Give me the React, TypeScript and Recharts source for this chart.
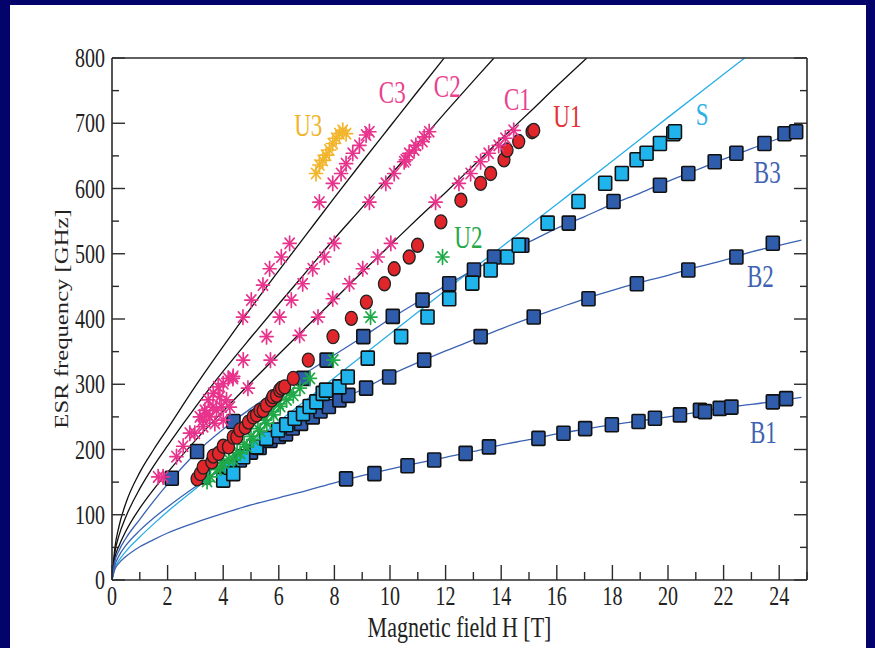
import React from 'react';
import { ComposedChart, Line, Scatter, XAxis, YAxis, Label } from 'recharts';

const NAVY = '#03036b';
const AXIS = '#2b2b2b';
const FONT = '"Liberation Serif","Times New Roman",Times,serif';

// ---- tick values ----
const X_TICKS = [0, 1, 2, 3, 4, 5, 6, 7, 8, 9, 10, 11, 12, 13, 14, 15, 16, 17, 18, 19, 20, 21, 22, 23, 24, 25];
const Y_TICKS = [0, 50, 100, 150, 200, 250, 300, 350, 400, 450, 500, 550, 600, 650, 700, 750, 800];

// ---- theory curves ----
const C3_CURVE: [number, number][] = [[0, 0], [0.1, 48], [0.25, 82], [0.5, 118], [1, 165], [1.5, 200], [2, 232], [3, 297], [4, 358], [5, 417], [6, 474], [7, 530], [8, 586], [9, 641], [10, 695], [11, 749], [11.95, 800]];
const C2_CURVE: [number, number][] = [[0, 0], [0.1, 41], [0.25, 68], [0.5, 97], [1, 140], [1.5, 175], [2, 206], [3, 265], [4, 320], [5, 372], [6, 423], [7, 473], [8, 523], [9, 571], [10, 620], [11, 668], [12, 717], [13, 765], [13.74, 800]];
const C1_CURVE: [number, number][] = [[0, 0], [0.1, 33], [0.25, 52], [0.5, 75], [1, 110], [1.5, 139], [2, 165], [3, 214], [4, 259], [5, 303], [6, 346], [7, 388], [8, 430], [9, 472], [10, 513], [11, 554], [12, 594], [13, 635], [14, 676], [15, 716], [16, 757], [17.08, 800]];
const S_CURVE: [number, number][] = [[0, 0], [0.1, 18], [0.25, 30], [0.5, 44], [1, 66], [1.5, 86], [2, 105], [3, 140], [4, 175], [5, 209], [6, 243], [8, 310], [10, 377], [12, 444], [14, 510], [16, 576], [18, 642], [20, 709], [22, 775], [22.76, 800]];
const B3_CURVE: [number, number][] = [[0, 0], [0.1, 28], [0.25, 45], [0.5, 64], [1, 93], [1.5, 121], [2, 147], [3, 194], [4, 231], [5, 263], [6, 292], [7, 318], [8, 345], [9, 372], [10, 400], [11, 426], [12, 451], [13, 475], [14, 497], [15, 518], [16, 539], [17, 557], [18, 576], [19, 593], [20, 611], [21, 628], [22, 645], [23, 661], [24, 677], [24.8, 691]];
const B2_CURVE: [number, number][] = [[0, 0], [0.1, 22], [0.25, 37], [0.5, 53], [1, 76], [1.5, 95], [2, 112], [3, 143], [4, 171], [5, 197], [6, 220], [7, 245], [8, 272], [9, 292], [10, 314], [11, 333], [12, 351], [13, 368], [14, 385], [15, 401], [16, 416], [17, 431], [18, 444], [19, 456], [20, 467], [21, 479], [22, 490], [23, 503], [24, 513], [24.8, 521]];
const B1_CURVE: [number, number][] = [[0, 0], [0.1, 16], [0.25, 26], [0.5, 36], [1, 51], [1.5, 62], [2, 72], [3, 88], [4, 102], [5, 115], [6, 126], [7, 137], [8, 149], [9, 160], [10, 170], [11, 179], [12, 188], [13, 197], [14, 207], [15, 215], [16, 224], [17, 231], [18, 238], [19, 244], [20, 250], [21, 257], [22, 264], [23, 269], [24, 275], [24.8, 280]];

// ---- measured points ----
const PINK_C3: [number, number][] = [[1.66, 158], [1.84, 158], [2.32, 189], [2.56, 205], [2.8, 225], [2.98, 225], [3.16, 250], [3.27, 245], [3.28, 235], [3.34, 260], [3.39, 255], [3.46, 276], [3.52, 250], [3.63, 265], [3.64, 286], [3.7, 240], [3.76, 260], [3.82, 296], [3.88, 281], [3.94, 265], [4.0, 301], [4.0, 245], [4.12, 276], [4.18, 309], [4.24, 265], [4.35, 309], [4.36, 312], [4.72, 337], [4.89, 294], [4.71, 403], [5.01, 429], [5.43, 452], [5.67, 477], [6.09, 495], [6.39, 516], [7.46, 579], [7.94, 608], [8.24, 623], [8.42, 638], [8.66, 654], [8.9, 666], [9.14, 682], [9.26, 687]];
const PINK_C2: [number, number][] = [[5.56, 373], [5.7, 337], [6.03, 403], [6.45, 429], [6.86, 454], [7.22, 477], [7.64, 495], [8.0, 516], [9.26, 579], [9.85, 608], [10.15, 623], [10.51, 641], [10.57, 644], [10.69, 654], [10.87, 659], [10.93, 666], [11.17, 672], [11.23, 679], [11.41, 687]];
const PINK_C1: [number, number][] = [[6.75, 375], [7.41, 403], [7.94, 431], [8.54, 454], [9.02, 477], [9.56, 495], [10.03, 516], [11.64, 579], [12.48, 608], [12.9, 623], [13.26, 641], [13.55, 654], [13.91, 666], [14.15, 677], [14.45, 689]];
const U3_PTS: [number, number][] = [[7.34, 623], [7.46, 636], [7.58, 643], [7.7, 651], [7.82, 659], [7.94, 669], [8.06, 677], [8.18, 684], [8.3, 689], [8.42, 684]];
const U1_PTS: [number, number][] = [[3.06, 155], [3.18, 163], [3.28, 173], [3.59, 181], [3.64, 190], [3.83, 194], [4.0, 205], [4.19, 204], [4.36, 219], [4.49, 219], [4.6, 230], [4.79, 234], [4.91, 242], [5.08, 250], [5.2, 253], [5.32, 260], [5.44, 260], [5.56, 268], [5.74, 276], [5.79, 281], [5.92, 283], [6.03, 291], [6.1, 294], [6.21, 296], [6.52, 309], [7.06, 337], [7.95, 373], [8.61, 401], [9.15, 426], [9.8, 454], [10.15, 477], [10.69, 495], [10.99, 513], [11.83, 549], [12.55, 582], [13.26, 608], [13.62, 623], [14.1, 644], [14.21, 659], [14.63, 672], [15.11, 687], [15.17, 689]];
const U2_PTS: [number, number][] = [[3.42, 151], [3.54, 158], [3.78, 169], [3.9, 172], [4.01, 179], [4.2, 185], [4.37, 184], [4.5, 195], [4.61, 194], [4.75, 208], [4.85, 204], [5.0, 220], [5.09, 215], [5.25, 232], [5.33, 228], [5.5, 245], [5.57, 240], [5.75, 258], [5.81, 253], [6.0, 270], [6.05, 266], [6.28, 276], [6.4, 288], [6.52, 283], [6.76, 294], [7.12, 309], [7.96, 337], [9.3, 403], [11.89, 495]];
const S_PTS: [number, number][] = [[3.29, 158], [4.0, 153], [4.24, 173], [4.36, 163], [4.72, 189], [5.2, 204], [5.55, 217], [5.97, 230], [6.27, 238], [6.57, 248], [6.87, 255], [7.11, 266], [7.35, 273], [7.58, 286], [7.7, 291], [8.18, 296], [8.48, 311], [9.2, 340], [10.4, 373], [11.35, 403], [12.13, 431], [12.96, 455], [13.62, 475], [14.22, 495], [14.63, 513], [15.67, 547], [16.78, 580], [17.74, 608], [18.34, 623], [18.87, 644], [19.23, 654], [19.71, 669], [20.19, 684], [20.25, 687]];
const B3_PTS: [number, number][] = [[2.15, 156], [3.06, 197], [4.37, 243], [6.88, 309], [7.72, 337], [9.04, 373], [10.1, 404], [11.17, 429], [12.13, 454], [13.02, 475], [13.74, 495], [14.76, 513], [16.43, 547], [18.04, 580], [19.71, 605], [20.73, 623], [21.68, 641], [22.46, 654], [23.47, 669], [24.19, 684], [24.61, 687]];
const B2_PTS: [number, number][] = [[4.13, 174], [4.6, 184], [5.0, 196], [5.31, 203], [5.7, 214], [6.0, 220], [6.26, 224], [6.5, 233], [6.8, 240], [7.22, 250], [7.5, 259], [7.8, 266], [8.18, 276], [8.5, 283], [9.14, 294], [9.97, 311], [11.23, 337], [13.26, 373], [15.17, 403], [17.14, 431], [18.88, 454], [20.73, 475], [22.46, 495], [23.77, 516]];
const B1_PTS: [number, number][] = [[8.42, 155], [9.44, 163], [10.63, 175], [11.59, 184], [12.72, 194], [13.56, 204], [15.34, 217], [16.24, 225], [17.02, 232], [17.98, 238], [18.94, 243], [19.53, 248], [20.43, 253], [21.15, 260], [21.33, 258], [21.86, 263], [22.28, 265], [23.77, 273], [24.25, 278]];

// ---- curve labels ----
const LABEL_TEXT = ['U3', 'C3', 'C2', 'C1', 'U1', 'S', 'B3', 'U2', 'B2', 'B1'];
const LABEL_X = [7.06, 10.08, 12.06, 14.58, 16.38, 21.23, 23.57, 12.82, 23.32, 23.43];
const LABEL_Y = [696, 747, 756, 736, 710, 713, 624, 524, 464, 225];
const LABEL_COLOR = ['#f0b429', '#e8428f', '#e8428f', '#e8428f', '#e23232', '#2fb0e6', '#3f62b2', '#25a84a', '#3f62b2', '#3f62b2'];

const pts = (a: [number, number][]) => a.map(([x, y]) => ({ x, y }));
const labelData = LABEL_TEXT.map((t, i) => ({ x: LABEL_X[i], y: LABEL_Y[i], text: t, color: LABEL_COLOR[i] }));

const stretched = (x: number, y: number, s: string | number, size: number, anchor: string, fill = '#222') => (
  <text transform={`translate(${x},${y}) scale(1,1.35)`} x={0} y={0} textAnchor={anchor} fontSize={size} fontFamily={FONT} fill={fill}>
    {s}
  </text>
);

const BottomTick = (props: any) => {
  const { x, y, payload } = props;
  const v = payload.value;
  const major = v % 2 === 0;
  return (
    <g>
      <line x1={x} y1={y} x2={x} y2={y - (major ? 15 : 8)} stroke={AXIS} strokeWidth={1.4} />
      {major && v < 25 ? stretched(x, y + 25, v, 20, 'middle') : null}
    </g>
  );
};
const TopTick = (props: any) => {
  const { x, y, payload } = props;
  const major = payload.value % 2 === 0;
  return <line x1={x} y1={y} x2={x} y2={y + (major ? 15 : 8)} stroke={AXIS} strokeWidth={1.4} />;
};
const LeftTick = (props: any) => {
  const { x, y, payload } = props;
  const v = payload.value;
  const major = v % 100 === 0;
  return (
    <g>
      <line x1={x} y1={y} x2={x + (major ? 13 : 7)} y2={y} stroke={AXIS} strokeWidth={1.4} />
      {major ? stretched(x - 7, y + 9, v, 20, 'end') : null}
    </g>
  );
};
const RightTick = (props: any) => {
  const { x, y, payload } = props;
  const major = payload.value % 100 === 0;
  return <line x1={x} y1={y} x2={x - (major ? 13 : 7)} y2={y} stroke={AXIS} strokeWidth={1.4} />;
};

const square = (fill: string) => (p: any) => (
  <rect x={p.cx - 6.5} y={p.cy - 7} width={13} height={14} rx={1} fill={fill} stroke="#111" strokeWidth={1.6} />
);
const hexCircle = (p: any) => (
  <ellipse cx={p.cx} cy={p.cy} rx={6} ry={7} fill="#e0262b" stroke="#222" strokeWidth={1.3} />
);
const asterisk = (color: string) => (p: any) => {
  const { cx, cy } = p;
  const r = 6.5;
  const d = 4.6;
  return (
    <g stroke={color} strokeWidth={1.7} strokeLinecap="round">
      <line x1={cx - r} y1={cy} x2={cx + r} y2={cy} />
      <line x1={cx} y1={cy - r - 0.8} x2={cx} y2={cy + r + 0.8} />
      <line x1={cx - d} y1={cy - d - 0.6} x2={cx + d} y2={cy + d + 0.6} />
      <line x1={cx - d} y1={cy + d + 0.6} x2={cx + d} y2={cy - d - 0.6} />
    </g>
  );
};
const labelShape = (p: any) => stretched(p.cx, p.cy + 10, p.payload.text, 23, 'middle', p.payload.color);

const curve = (data: [number, number][], color: string, key: string) => (
  <Line key={key} data={pts(data)} dataKey="y" type="monotone" stroke={color} strokeWidth={1.3} dot={false} activeDot={false} isAnimationActive={false} />
);

export default function App() {
  return (
    <div style={{ position: 'absolute', left: 0, top: 0, width: 875, height: 648, background: NAVY, overflow: 'hidden' }}>
      <div style={{ position: 'absolute', left: 10, top: 5, width: 856, height: 643, background: '#fff' }} />
      <div style={{ position: 'absolute', left: 0, top: 0 }}>
        <ComposedChart width={875} height={648} margin={{ top: 48, right: 58, bottom: 28, left: 62 }}>
          <XAxis type="number" dataKey="x" domain={[0, 25]} ticks={X_TICKS} interval={0} tickSize={0} tickMargin={0} tick={BottomTick} allowDataOverflow height={40} axisLine={{ stroke: AXIS, strokeWidth: 1.6 }}>
            <Label content={(p: any) => stretched(p.viewBox.x + p.viewBox.width / 2, 637, 'Magnetic field H [T]', 22, 'middle')} />
          </XAxis>
          <XAxis xAxisId="top" orientation="top" type="number" domain={[0, 25]} ticks={X_TICKS} interval={0} tickSize={0} tickMargin={0} tick={TopTick} allowDataOverflow height={10} axisLine={{ stroke: AXIS, strokeWidth: 1.6 }} />
          <YAxis type="number" dataKey="y" domain={[0, 800]} ticks={Y_TICKS} interval={0} tickSize={0} tickMargin={0} tick={LeftTick} allowDataOverflow width={50} axisLine={{ stroke: AXIS, strokeWidth: 1.6 }}>
            <Label
              content={(p: any) => (
                <text transform={`translate(68,${p.viewBox.y + p.viewBox.height / 2}) rotate(-90) scale(1.3,1)`} x={0} y={0} textAnchor="middle" fontSize={19} fontFamily={FONT} fill="#222">
                  ESR frequency [GHz]
                </text>
              )}
            />
          </YAxis>
          <YAxis yAxisId="right" orientation="right" type="number" domain={[0, 800]} ticks={Y_TICKS} interval={0} tickSize={0} tickMargin={0} tick={RightTick} allowDataOverflow width={10} axisLine={{ stroke: AXIS, strokeWidth: 1.6 }} />

          {curve(C3_CURVE, '#111111', 'c3')}
          {curve(C2_CURVE, '#111111', 'c2')}
          {curve(C1_CURVE, '#111111', 'c1')}
          {curve(S_CURVE, '#2aaee6', 's')}
          {curve(B3_CURVE, '#3a62b3', 'b3')}
          {curve(B2_CURVE, '#3a62b3', 'b2')}
          {curve(B1_CURVE, '#3a62b3', 'b1')}

          <Scatter data={pts(B1_PTS)} shape={square('#2f5dac')} isAnimationActive={false} />
          <Scatter data={pts(B2_PTS)} shape={square('#2f5dac')} isAnimationActive={false} />
          <Scatter data={pts(B3_PTS)} shape={square('#2f5dac')} isAnimationActive={false} />
          <Scatter data={pts(S_PTS)} shape={square('#1fb4ec')} isAnimationActive={false} />
          <Scatter data={pts(U2_PTS)} shape={asterisk('#1faa48')} isAnimationActive={false} />
          <Scatter data={pts(U1_PTS)} shape={hexCircle} isAnimationActive={false} />
          <Scatter data={pts(PINK_C3)} shape={asterisk('#e8338c')} isAnimationActive={false} />
          <Scatter data={pts(PINK_C2)} shape={asterisk('#e8338c')} isAnimationActive={false} />
          <Scatter data={pts(PINK_C1)} shape={asterisk('#e8338c')} isAnimationActive={false} />
          <Scatter data={pts(U3_PTS)} shape={asterisk('#f2b52a')} isAnimationActive={false} />
          <Scatter data={labelData} shape={labelShape} isAnimationActive={false} />
        </ComposedChart>
      </div>
    </div>
  );
}
